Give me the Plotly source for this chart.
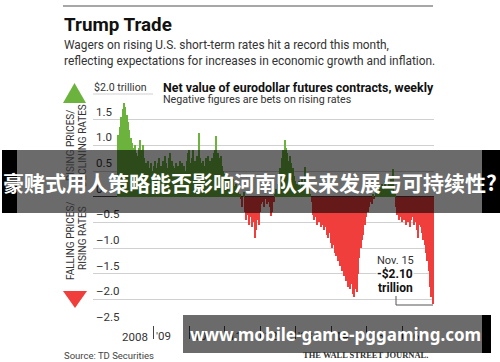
import pandas as pd
import plotly.graph_objects as go

W, H = 500, 362

# ---------------- data (bi-weekly net value, $ trillion) ----------------
values = [
    1.20, 1.35, 1.55, 1.70, 1.82, 1.75, 1.60, 1.45, 1.30, 1.15,
    1.05, 0.95, 1.00, 0.85, 0.80, 0.95, 1.10, 0.90, 1.00, 0.75,
    0.65, 0.60, 0.70, 0.55, 0.65, 0.50, 0.60, 0.70, 0.55, 0.65,
    0.75, 0.60, 0.55, 0.70, 0.80, 0.65, 0.55, 0.75, 0.86, 0.70,
    0.60, 0.55, 0.65, 0.50, 0.60, 0.70, 0.55, 0.65, 0.60, 0.50,
    0.70, 0.85, 0.90, 0.65, 0.75, 0.90, 0.70, 0.60, 0.80, 1.25,
    0.75, 0.65, 0.70, 0.60, 0.75, 0.65, 0.80, 0.70, 0.60, 0.75,
    0.85, 0.90, 1.19, 0.85, 0.75, 0.80, 0.60, 0.50, 0.45, 0.40,
    0.35, 0.40, 0.30, 0.25, 0.35, 0.20, 0.25, 0.15, 0.10, 0.05,
    -0.05, -0.20, 0.10, -0.30, -0.45, -0.35, -0.55, -0.40, -0.60, -0.50,
    -0.80, -0.65, -0.45, -0.55, -0.30, -0.15, -0.10, -0.20, -0.05, -0.15,
    -0.10, -0.20, -0.37, -0.30, -0.10, 0.05, 0.15, 0.25, 0.40, 0.55,
    0.75, 0.90, 1.10, 0.95, 0.85, 0.70, 0.80, 0.65, 0.55, 0.40,
    0.30, 0.25, 0.20, 0.30, 0.20, 0.35, 0.25, 0.57, 0.30, 0.20,
    0.15, 0.05, -0.10, -0.35, -0.45, -0.40, -0.55, -0.50, -0.45, -0.60,
    -0.55, -0.65, -0.60, -0.75, -0.80, -0.70, -0.90, -1.00, -0.95, -1.10,
    -1.15, -1.25, -1.20, -1.35, -1.45, -1.40, -1.55, -1.65, -1.60, -1.75,
    -1.80, -1.70, -1.90, -1.95, -1.80, -1.85, -1.50, -1.20, -1.00, -0.85,
    -0.75, -0.55, -0.40, -0.30, -0.20, -0.10, -0.15, 0.05, -0.05, 0.10,
    0.15, 0.05, 0.20, 0.10, 0.25, 0.15, 0.30, 0.20, 0.10, 0.25,
    0.35, 0.20, 0.53, 0.10, -0.20, -0.35, -0.45, -0.40, -0.50, -0.35,
    -0.45, -0.55, -0.40, -0.50, -0.60, -0.45, -0.40, -0.55, -0.50, -0.65,
    -0.80, -0.55, -0.60, -0.70, -0.85, -0.95, -1.10, -1.25, -1.45, -1.75,
    -1.95, -2.10,
]
last_date = "2016-11-15"
dates = pd.date_range(end=last_date, periods=len(values), freq="14D")

year_ticks = ["2008-01-01", "2009-01-01", "2010-01-01", "2011-01-01", "2012-01-01",
              "2013-01-01", "2014-01-01", "2015-01-01", "2016-01-01"]
year_labels = ["2008", "'09", "'10", "'11", "'12", "'13", "'14", "'15", "'16"]

y_ticks = [-2.5, -2.0, -1.5, -1.0, -0.5, 0, 0.5, 1.0, 1.5]
y_labels = ["–2.5", "–2.0", "–1.5", "–1.0", "–0.5", "0", "0.5", "1.0", "1.5"]

GREEN = "#6cb33e"
RED = "#f03e3c"
FONT = "Roboto, sans-serif"


def px(x):
    return x / W


def py(y):
    return 1 - y / H


colors = [GREEN if v >= 0 else RED for v in values]

fig = go.Figure(go.Bar(x=dates, y=values, marker=dict(color=colors, line=dict(width=0)),
                       hoverinfo="skip"))

fig.update_layout(
    width=W, height=H, margin=dict(l=0, r=0, t=0, b=0),
    paper_bgcolor="white", plot_bgcolor="white", bargap=0, showlegend=False,
    xaxis=dict(domain=[px(93), px(434)], type="date",
               range=["2007-04-19", "2016-11-25"],
               tickvals=year_ticks, ticktext=[""] + year_labels[1:],
               ticks="outside", ticklen=13, tickcolor="#444", tickwidth=1,
               ticklabelposition="outside right", ticklabelshift=2,
               tickfont=dict(family=FONT, size=11.5, color="#333"),
               showgrid=False, zeroline=False, showline=False, fixedrange=True),
    yaxis=dict(domain=[py(325), py(94)], range=[-2.5, 2.0],
               tickvals=y_ticks, ticktext=y_labels,
               ticklabelposition="inside top", ticks="",
               tickfont=dict(family=FONT, size=11.5, color="#333"),
               showgrid=True, gridcolor="#d0d0d0", gridwidth=1,
               zeroline=True, zerolinecolor="#444", zerolinewidth=1,
               showline=False, fixedrange=True),
)

shapes = []
shapes.append(dict(type="line", xref="paper", yref="paper", x0=px(63), x1=px(433),
                   y0=py(6), y1=py(6), line=dict(color="#8a8a8a", width=1.5)))
shapes.append(dict(type="line", xref="paper", yref="paper", x0=px(93), x1=px(153),
                   y0=py(94), y1=py(94), line=dict(color="#d0d0d0", width=1)))
shapes.append(dict(type="path", xref="paper", yref="paper",
                   path=f"M {px(63)} {py(103)} L {px(86)} {py(103)} L {px(74.5)} {py(83)} Z",
                   fillcolor=GREEN, line=dict(width=0)))
shapes.append(dict(type="path", xref="paper", yref="paper",
                   path=f"M {px(63)} {py(291)} L {px(87)} {py(291)} L {px(75)} {py(308)} Z",
                   fillcolor=RED, line=dict(width=0)))
shapes.append(dict(type="path", xref="paper", yref="paper",
                   path=f"M {px(396)} {py(296)} L {px(396)} {py(305)} L {px(433)} {py(305)}",
                   line=dict(color="#555", width=1)))
shapes.append(dict(type="rect", xref="paper", yref="paper", x0=px(17), x1=px(482),
                   y0=py(213), y1=py(150), fillcolor="rgba(0,0,0,0.58)",
                   line=dict(width=0), layer="above"))
shapes.append(dict(type="rect", xref="paper", yref="paper", x0=px(2), x1=px(17),
                   y0=py(213), y1=py(150), fillcolor="black", line=dict(width=0), layer="above"))
shapes.append(dict(type="rect", xref="paper", yref="paper", x0=px(482), x1=px(500),
                   y0=py(213), y1=py(150), fillcolor="black", line=dict(width=0), layer="above"))
shapes.append(dict(type="rect", xref="paper", yref="paper", x0=px(183), x1=px(482),
                   y0=py(353), y1=py(315), fillcolor="rgba(0,0,0,0.58)",
                   line=dict(width=0), layer="above"))
shapes.append(dict(type="rect", xref="paper", yref="paper", x0=px(482), x1=px(491),
                   y0=py(353), y1=py(315), fillcolor="black", line=dict(width=0), layer="above"))
fig.update_layout(shapes=shapes)


def ann(text, x, y, size, color="#333", family=FONT, xanchor="left", angle=0, bg=None):
    d = dict(text=text, xref="paper", yref="paper", x=px(x), y=py(y), showarrow=False,
             xanchor=xanchor, yanchor="middle", textangle=angle,
             font=dict(family=family, size=size, color=color))
    if bg:
        d["bgcolor"] = bg
        d["borderpad"] = 0
    fig.add_annotation(**d)


ann("<b>Trump Trade</b>", 62, 25, 18.8, color="#111")
ann("Wagers on rising U.S. short-term rates hit a record this month,", 62, 45, 11.9)
ann("reflecting expectations for increases in economic growth and inflation.", 62, 61, 11.9)
ann("$2.0 trillion", 92, 87, 10.6)
ann("<b>Net value of eurodollar futures contracts, weekly</b>", 161, 87, 12.4, color="#111")
ann("Negative figures are bets on rising rates", 161, 100, 10.7)
ann(year_labels[0], 120, 337, 11.5)

ann("RISING PRICES/", 70, 146, 10, angle=-90, xanchor="center")
ann("DECLINING RATES", 82, 146, 10, angle=-90, xanchor="center")
ann("FALLING PRICES/", 70, 241, 10, angle=-90, xanchor="center")
ann("RISING RATES", 82, 238, 10, angle=-90, xanchor="center")

ann("Nov. 15", 395, 260, 11, xanchor="center", bg="white")
ann("<b>-$2.10</b>", 395, 274, 12, color="#111", xanchor="center", bg="white")
ann("<b>trillion</b>", 395, 288, 12, color="#111", xanchor="center", bg="white")

ann("Source: TD Securities", 62, 355, 9.5, color="#444")
ann("<b>THE WALL STREET JOURNAL.</b>", 365, 355, 8.5, color="#333",
    family="Liberation Serif, DejaVu Serif, serif", xanchor="center")

ann("<b>豪赌式用人策略能否影响河南队未来发展与可持续性?</b>", 250, 182, 21, color="white",
    family="Noto Sans CJK SC", xanchor="center")
ann("<b>www.mobile-game-pggaming.com</b>", 335, 334, 17, color="white",
    family="Noto Sans, Open Sans, sans-serif", xanchor="center")

fig.write_html("out.html", config={"displayModeBar": False},
               post_script="document.body.style.margin='0px';")
